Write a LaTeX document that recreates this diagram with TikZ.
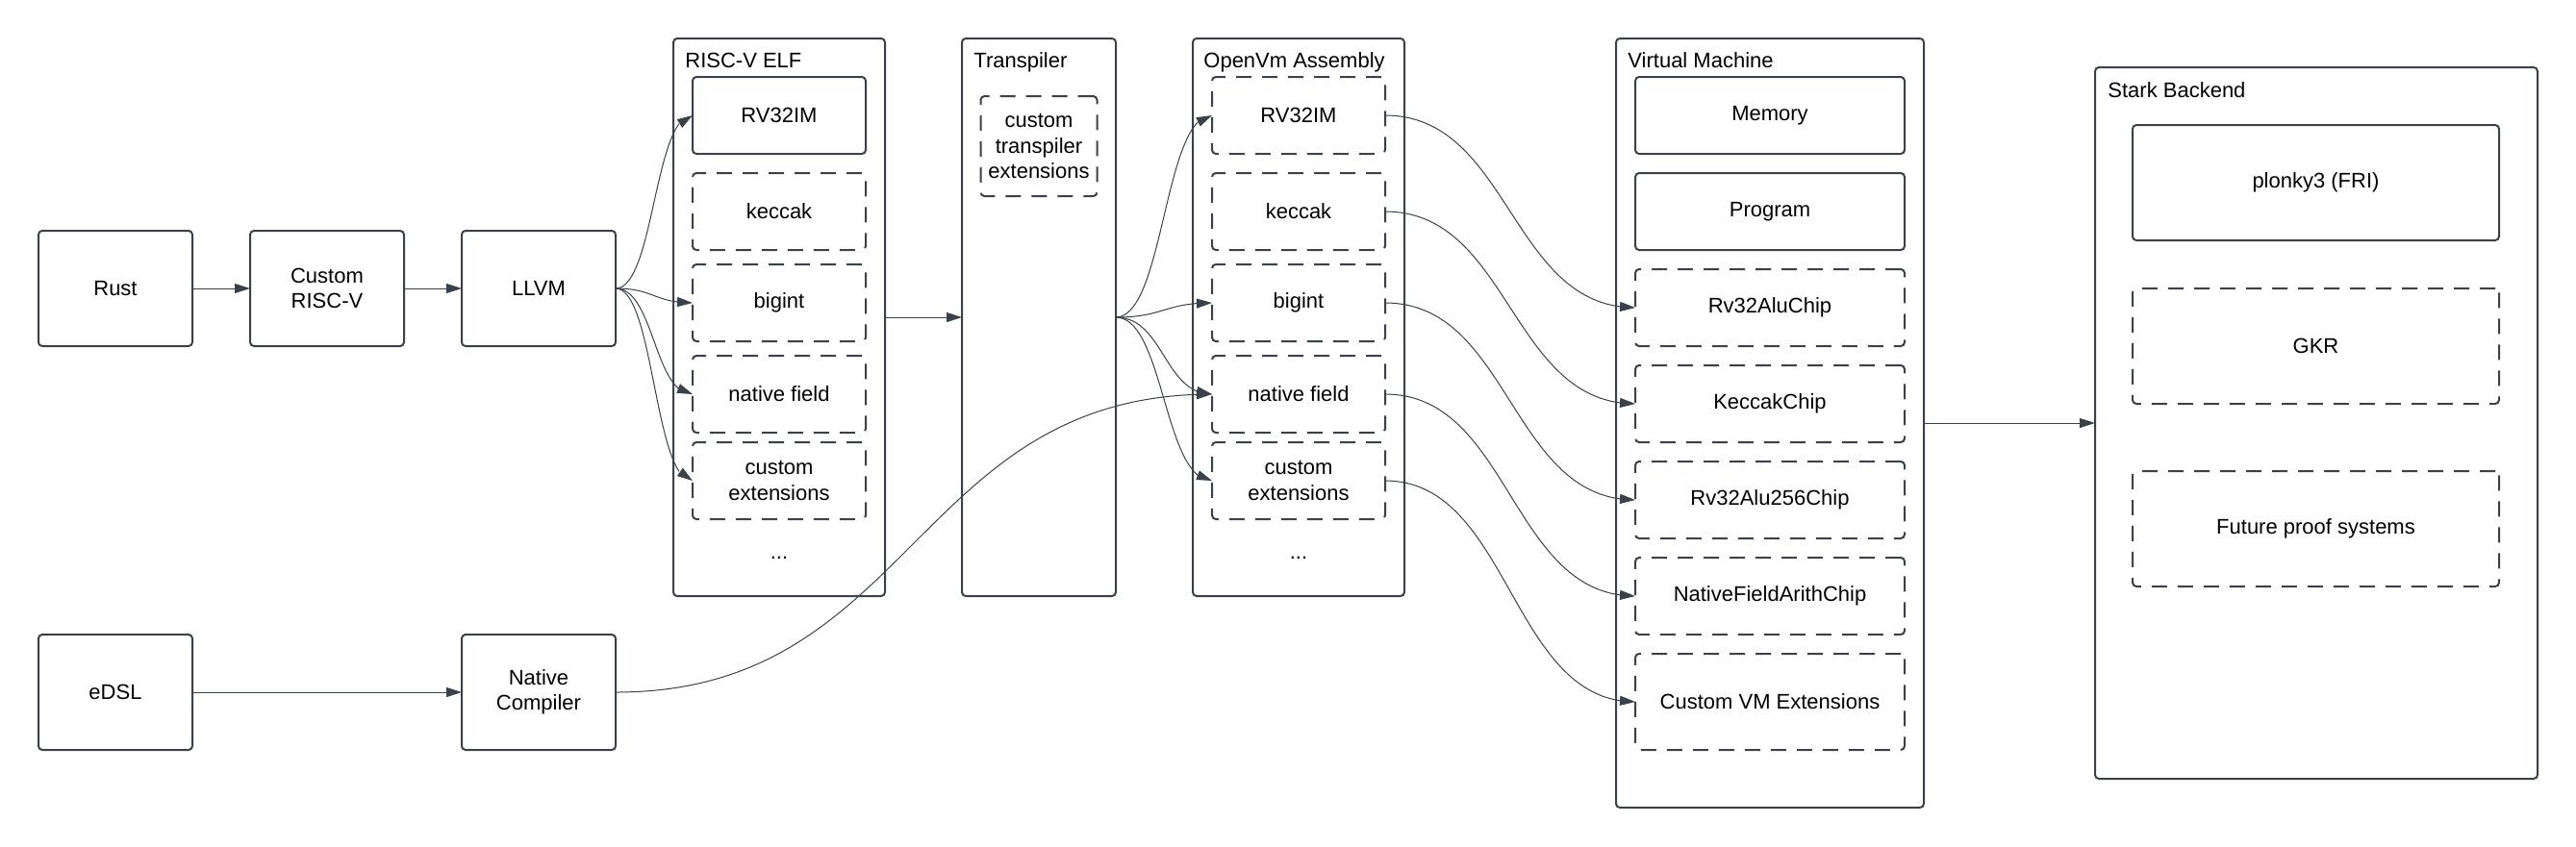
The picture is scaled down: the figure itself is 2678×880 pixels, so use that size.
\documentclass[tikz,border=0pt]{standalone}
\usepackage{fontspec}
\setmainfont{Liberation Sans}
\usetikzlibrary{arrows.meta,bending}
\definecolor{ln}{HTML}{3A414A}
\begin{document}
\begin{tikzpicture}[x=0.5pt,y=-0.5pt,
  every node/.style={font=\fontsize{11}{13.2}\selectfont, text=black},
  box/.style={draw=ln, line width=1pt, rounded corners=2pt, inner sep=0pt, outer sep=0pt, align=center},
  dbox/.style={box, dash pattern=on 8pt off 5.5pt},
  conn/.style={draw=ln, line width=0.5pt, -{Triangle[length=8pt,width=5pt]}},
  ttl/.style={anchor=base west, inner sep=0pt},
  src/.style={box, minimum width=80pt, minimum height=60pt},
  elfbox/.style={minimum width=90pt, minimum height=40pt},
  vmbox/.style={minimum width=140pt, minimum height=40pt},
  sbbox/.style={minimum width=190.5pt, minimum height=60pt},
]
\useasboundingbox (0,0) rectangle (2678,880);

% sources
\node[src] (rust) at (120,300) {Rust};
\node[src] (crv) at (340,300) {Custom\\RISC-V};
\node[src] (llvm) at (560,300) {LLVM};
\node[src] (edsl) at (120,720) {eDSL};
\node[src] (nc) at (560,720) {Native\\Compiler};

% RISC-V ELF
\node[box, minimum width=110pt, minimum height=290pt] (elf) at (810,330) {};
\node[ttl] (elft) at (712,70) {RISC-V ELF};
\node[box, elfbox] (e1) at (810,120) {RV32IM};
\node[dbox, elfbox] (e2) at (810,220) {keccak};
\node[dbox, elfbox] (e3) at (810,315) {bigint};
\node[dbox, elfbox] (e4) at (810,410) {native field};
\node[dbox, elfbox] (e5) at (810,500) {custom\\extensions};
\node (edots) at (810,580) {...};

% Transpiler
\node[box, minimum width=80pt, minimum height=290pt] (tr) at (1080,330) {};
\node[ttl] (trt) at (1012,70) {Transpiler};
\node[dbox, minimum width=60.5pt, minimum height=52pt] (trx) at (1080,152) {custom\\transpiler\\extensions};

% OpenVm Assembly
\node[box, minimum width=110pt, minimum height=290pt] (ov) at (1350,330) {};
\node[ttl] (ovt) at (1251,70) {OpenVm Assembly};
\node[dbox, elfbox] (o1) at (1350,120) {RV32IM};
\node[dbox, elfbox] (o2) at (1350,220) {keccak};
\node[dbox, elfbox] (o3) at (1350,315) {bigint};
\node[dbox, elfbox] (o4) at (1350,410) {native field};
\node[dbox, elfbox] (o5) at (1350,500) {custom\\extensions};
\node (odots) at (1350,580) {...};

% Virtual Machine
\node[box, minimum width=160pt, minimum height=400pt] (vm) at (1840,440) {};
\node[ttl] (vmt) at (1692,70.5) {Virtual Machine};
\node[box, vmbox] (mem) at (1840,120) {Memory};
\node[box, vmbox] (prog) at (1840,220) {Program};
\node[dbox, vmbox] (v1) at (1840,320) {Rv32AluChip};
\node[dbox, vmbox] (v2) at (1840,420) {KeccakChip};
\node[dbox, vmbox] (v3) at (1840,520) {Rv32Alu256Chip};
\node[dbox, vmbox] (v4) at (1840,620) {NativeFieldArithChip};
\node[dbox, vmbox, minimum height=50pt] (v5) at (1840,730) {Custom VM Extensions};

% Stark Backend
\node[box, minimum width=230pt, minimum height=370pt] (sb) at (2408,440) {};
\node[ttl] (sbt) at (2191,101) {Stark Backend};
\node[box, sbbox] (p1) at (2407.5,190) {plonky3 (FRI)};
\node[dbox, sbbox] (p2) at (2407.5,360) {GKR};
\node[dbox, sbbox] (p3) at (2407.5,550) {Future proof systems};

% straight connectors
\draw[conn] (rust) -- (crv);
\draw[conn] (crv) -- (llvm);
\draw[conn] (edsl) -- (nc);
\draw[conn] (elf) -- (tr);
\draw[conn] (vm) -- (sb);

% LLVM fan
\foreach \t in {e1,e3,e4,e5}
  \draw[conn] (llvm.east) .. controls +(40,0) and +(-40,0) .. (\t.west);

% Transpiler fan
\foreach \t in {o1,o3,o4,o5}
  \draw[conn] (tr.east) .. controls +(50,0) and +(-50,0) .. (\t.west);

% Native compiler
\draw[conn] (nc.east) .. controls +(310,0) and +(-310,0) .. (o4.west);

% OpenVm -> VM
\draw[conn] (o1.east) .. controls +(130,0) and +(-130,0) .. (v1.west);
\draw[conn] (o2.east) .. controls +(130,0) and +(-130,0) .. (v2.west);
\draw[conn] (o3.east) .. controls +(130,0) and +(-130,0) .. (v3.west);
\draw[conn] (o4.east) .. controls +(130,0) and +(-130,0) .. (v4.west);
\draw[conn] (o5.east) .. controls +(130,0) and +(-130,0) .. (v5.west);
\end{tikzpicture}
\end{document}
